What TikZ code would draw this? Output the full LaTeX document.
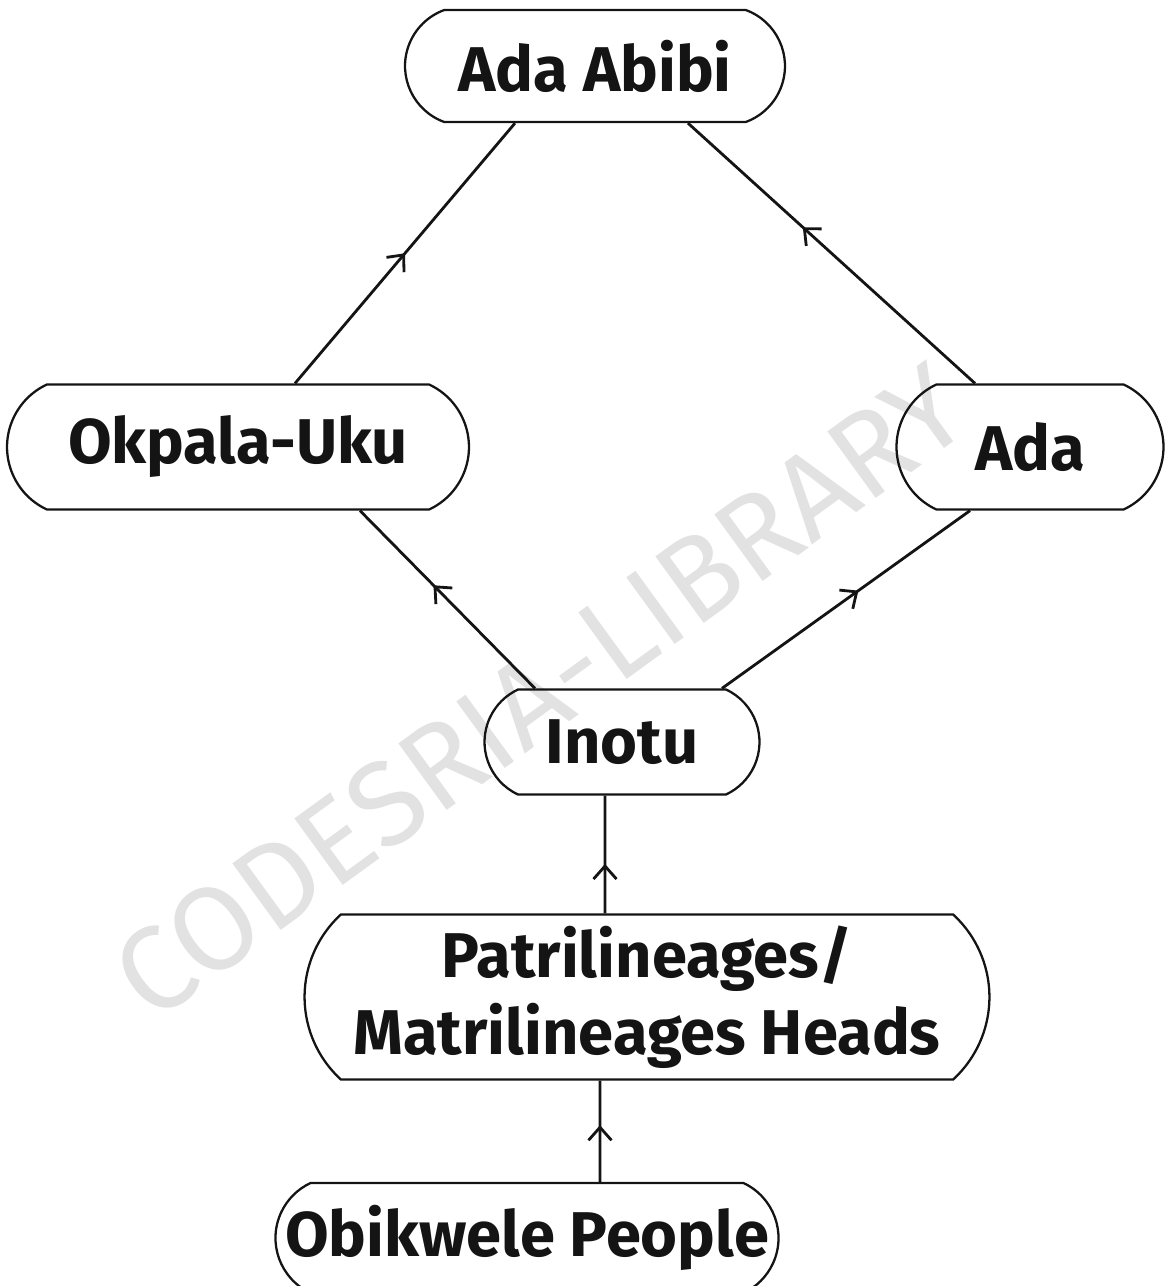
\documentclass[tikz,border=0pt]{standalone}
\usepackage{xcolor,tikz,fontspec}
\setmainfont{Fira Sans}
\usetikzlibrary{arrows.meta,positioning,shapes.misc,decorations.markings}
\definecolor{ink}{RGB}{20,20,20}
\definecolor{wmark}{RGB}{226,226,226}
\tikzset{
  unit/.style={draw=ink,line width=1.3pt,rounded rectangle,rounded rectangle arc length=130,inner sep=0pt,align=center,font=\fontsize{36}{44}\selectfont\bfseries,text=ink},
  link/.style={draw=ink,line width=1.6pt,postaction={decorate},
    decoration={markings,mark=at position #1 with {\arrow{Straight Barb[length=2.6mm,width=4.6mm]}}}},
  link/.default=0.5,
  wm/.style={font=\fontsize{68}{68}\selectfont,text=wmark,rotate=36}
}
\begin{document}
\begin{tikzpicture}[x=0.02cm,y=-0.02cm]
  \useasboundingbox (0,0) rectangle (1170,1286);
  \node[wm] (stamp) at (540,692) {CODESRIA-LIBRARY};
  \node[unit,minimum width=7.6cm,minimum height=2.24cm,rounded rectangle arc length=140] (abibi) at (595,66) {Ada Abibi};
  \node[unit,minimum width=9.24cm,minimum height=2.5cm] (okpala) at (238,447) {Okpala-Uku};
  \node[unit,minimum width=5.34cm,minimum height=2.5cm] (ada) at (1030,447) {Ada};
  \node[unit,minimum width=5.5cm,minimum height=2.1cm] (inotu) at (622,742) {Inotu};
  \node[unit,minimum width=13.7cm,minimum height=3.3cm,rounded rectangle arc length=95] (heads) at (647,997) {Patrilineages/\\Matrilineages Heads};
  \node[unit,minimum width=9.9cm,minimum height=2.2cm] (people) at (527,1238) {Obikwele People};
  % upward links
  \draw[link] ([xshift=1.14cm]okpala.north) -- ([xshift=-1.6cm]abibi.south);
  \draw[link=0.6] ([xshift=-1.1cm]ada.north) -- ([xshift=1.86cm]abibi.south);
  \draw[link=0.58] ([xshift=-1.74cm]inotu.north) -- ([xshift=2.44cm]okpala.south);
  \draw[link=0.55] ([xshift=2cm]inotu.north) -- ([xshift=-1.2cm]ada.south);
  \draw[link=0.42] ([xshift=-0.84cm]heads.north) -- ([xshift=-0.34cm]inotu.south);
  \draw[link=0.56] ([xshift=1.46cm]people.north) -- ([xshift=-0.94cm]heads.south);
\end{tikzpicture}
\end{document}
